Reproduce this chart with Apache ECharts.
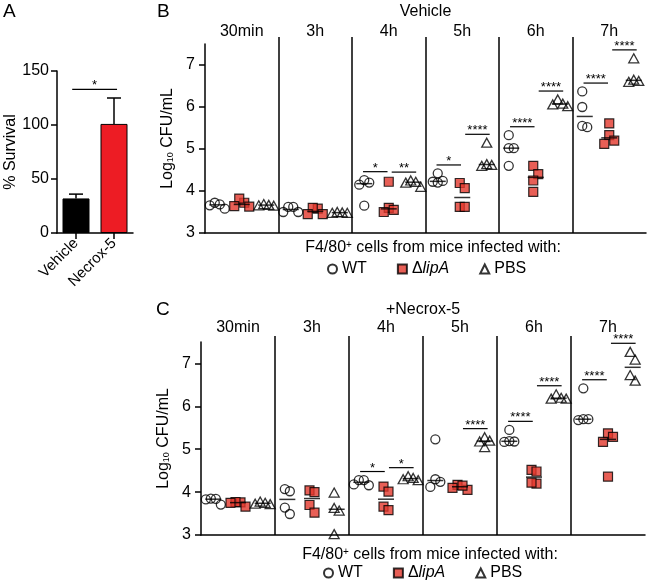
<!DOCTYPE html>
<html><head><meta charset="utf-8">
<script src="https://cdn.jsdelivr.net/npm/echarts@6/dist/echarts.min.js"></script>
<style>html,body{margin:0;padding:0;background:#fff}#c{width:650px;height:583px}</style>
</head><body><div id="c"></div>
<script>
const FONT = '"Liberation Sans", Arial, Helvetica, sans-serif';

// ---------- Panel A ----------
const survivalCategories = ['Vehicle', 'Necrox-5'];
const survivalMean = [32, 101];
const survivalSem = [4, 24];
const survivalSigLevel = 133;
const survivalSigStars = '*';

// ---------- Panels B & C ----------
const timepoints = ['30min', '3h', '4h', '5h', '6h', '7h'];
const groups = ['WT', 'ΔlipA', 'PBS'];

// Vehicle (B) — log10 CFU/mL, one array per timepoint
const vehWT   = [[3.66,3.58,3.68,3.72],[3.62,3.50,3.50,3.62],[4.26,4.20,4.15,3.65],[4.22,4.20,4.24,4.42],[5.33,5.02,5.02,4.60],[6.37,6.00,5.55,5.52]];
const vehLipA = [[3.72,3.82,3.63,3.64],[3.58,3.60,3.45,3.45],[4.22,3.60,3.55,3.50],[4.19,4.07,3.62,3.62],[4.60,4.40,4.25,3.98],[5.61,5.33,5.20,5.12]];
const vehPBS  = [[3.65,3.67,3.66,3.69],[3.48,3.48,3.50,3.49],[4.20,4.22,4.25,4.10],[5.15,4.62,4.64,4.60],[6.18,6.08,6.02,6.06],[7.16,6.62,6.65,6.60]];

// +Necrox-5 (C)
const necWT   = [[3.84,3.83,3.85,3.71],[4.07,4.02,3.64,3.49],[4.28,4.18,4.16,4.28],[5.23,4.30,4.24,4.12],[5.45,5.18,5.17,5.19],[6.42,5.70,5.70,5.68]];
const necLipA = [[3.76,3.77,3.75,3.66],[4.04,4.00,3.70,3.52],[4.13,4.01,3.66,3.58],[4.17,4.10,4.05,4.15],[4.52,4.48,4.20,4.22],[5.37,5.29,5.17,4.36]];
const necPBS  = [[3.72,3.73,3.75,3.78],[3.99,3.63,3.57,3.02],[4.30,4.28,4.33,4.37],[5.28,5.20,5.18,5.05],[6.28,6.20,6.18,6.18],[7.27,7.09,6.73,6.60]];

// significance: [timepoint index, comparison (0 = WT vs ΔlipA, 1 = ΔlipA vs PBS)]
const vehSigPairs = [[2,0],[2,1],[3,0],[3,1],[4,0],[4,1],[5,0],[5,1]];
const vehSigStars = ['*','**','*','****','****','****','****','****'];
const necSigPairs = [[2,0],[2,1],[3,1],[4,0],[4,1],[5,0],[5,1]];
const necSigStars = ['*','*','****','****','****','****','****'];

// ---------- helpers ----------
function median(a){ const s=[...a].sort((x,y)=>x-y); const n=s.length; return n%2? s[(n-1)/2] : (s[n/2-1]+s[n/2])/2; }
// horizontal spreading of overlapping points (layout only, values untouched)
function beeswarm(vals, pxPerUnit, Dx, Dy){
  const order = vals.map((v,i)=>i).sort((a,b)=>vals[b]-vals[a]);
  const placed = []; const offs = new Array(vals.length).fill(0);
  const cands = [0]; for(let k=1;k<=60;k++){ cands.push(k*0.5, -k*0.5); }
  for(const i of order){
    const y = vals[i]*pxPerUnit;
    for(const c of cands){
      if(placed.every(p => Math.abs(c-p.x) >= Dx || Math.abs(y-p.y) >= Dy)){ offs[i]=c; placed.push({x:c,y}); break; }
    }
  }
  const mid = (Math.max(...offs)+Math.min(...offs))/2;
  return offs.map(o => o - mid);
}
const symbols = ['circle','rect','triangle'];
const symSizes = [9, 9, [10,9]];
const symStyles = [
  {color:'rgba(255,255,255,0)', borderColor:'#000', borderWidth:1.3},
  {color:'#e2372c', borderColor:'#000', borderWidth:1.2},
  {color:'rgba(255,255,255,0)', borderColor:'#000', borderWidth:1.3}
];
function panelSeries(datasets, sigPairs, sigStars, ax, pxY){
  const out = [];
  datasets.forEach((grp, g) => {
    const pts = [];
    grp.forEach((vals, t) => {
      const offs = beeswarm(vals, pxY, 5, 9);
      vals.forEach((v,i) => pts.push({value:[t + (g+0.5)/3, v], symbolOffset:[offs[i],0]}));
    });
    out.push({type:'scatter', name:groups[g], xAxisIndex:ax, yAxisIndex:ax, symbol:symbols[g], symbolSize:symSizes[g],
      itemStyle:symStyles[g], data:pts, z:3, silent:true});
    out.push({type:'scatter', xAxisIndex:ax, yAxisIndex:ax, symbol:'rect', symbolSize:[16,1.5], itemStyle:{color:'#000'},
      data: grp.map((vals,t)=>[t+(g+0.5)/3, median(vals)]), z:4, silent:true});
  });
  out.push({type:'custom', xAxisIndex:ax, yAxisIndex:ax, clip:false, silent:true, z:5,
    data: sigPairs.map(([t,c]) => [t, c, Math.max(...datasets[c][t], ...datasets[c+1][t]) + 0.2]),
    renderItem: (params, api) => {
      const t = api.value(0), c = api.value(1), lvl = api.value(2);
      const x0 = t + (c ? 1.62 : 0.45)/3, x1 = x0 + 1/3;
      const p0 = api.coord([x0, lvl]), p1 = api.coord([x1, lvl]);
      return {type:'group', children:[
        {type:'line', shape:{x1:p0[0], y1:p0[1], x2:p1[0], y2:p1[1]}, style:{stroke:'#000', lineWidth:1.2}},
        {type:'text', x:(p0[0]+p1[0])/2, y:p0[1]+3, style:{text:sigStars[params.dataIndex], fill:'#000', font:'13px '+FONT, align:'center', verticalAlign:'bottom'}}
      ]};
    }});
  return out;
}

const axisLineStyle = {lineStyle:{color:'#000', width:1.5}};
const tickStyle = {show:true, length:6, inside:false, lineStyle:{color:'#000', width:1.5}};
function cfuYAxis(gi){
  return {type:'value', gridIndex:gi, min:3, max:7.5, interval:1,
    axisLine:{show:true, ...axisLineStyle}, axisTick:tickStyle, splitLine:{show:false},
    axisLabel:{color:'#000', fontSize:16, fontFamily:FONT, margin:10, showMaxLabel:false},
    name:'Log{sub|10} CFU/mL', nameLocation:'middle', nameGap:28,
    nameTextStyle:{color:'#000', fontSize:16, fontFamily:FONT, rich:{sub:{fontSize:9, fontFamily:FONT, color:'#000', verticalAlign:'bottom', lineHeight:9}}}};
}
function bottomXAxis(gi){
  return {type:'value', gridIndex:gi, min:0, max:6, axisLine:{show:true, onZero:false, ...axisLineStyle},
    axisTick:{show:false}, axisLabel:{show:false}, splitLine:{show:false}};
}
function sepXAxis(gi){
  return {type:'value', gridIndex:gi, min:0, max:6, interval:1, axisLine:{show:false}, axisTick:{show:false}, axisLabel:{show:false},
    splitLine:{show:true, showMinLine:false, showMaxLine:false, lineStyle:{color:'#000', width:1.5}}};
}
function topXAxis(gi, margin){
  return {type:'category', gridIndex:gi, position:'top', data:timepoints, axisLine:{show:false}, axisTick:{show:false},
    axisLabel:{color:'#000', fontSize:16, fontFamily:FONT, margin:margin, interval:0}};
}
function legendFor(left, top){
  return {left:left, top:top, padding:0, itemWidth:9, itemHeight:9, itemGap:30, selectedMode:false, data:groups,
    formatter: n => n === 'ΔlipA' ? '{n|Δ}{i|lipA}' : n,
    textStyle:{color:'#000', fontSize:16, fontFamily:FONT, rich:{n:{fontSize:16, fontFamily:FONT, color:'#000'}, i:{fontSize:16, fontStyle:'italic', fontFamily:FONT, color:'#000'}}}};
}

const option = {
  animation:false,
  backgroundColor:'#fff',
  grid:[
    {left:57, top:71, width:76, height:162, outerBoundsMode:'none'},
    {left:205, top:44, width:441, height:189, outerBoundsMode:'none'},
    {left:201, top:342, width:444, height:193, outerBoundsMode:'none'},
    {left:205, top:37, width:441, height:196, outerBoundsMode:'none'},
    {left:201, top:336, width:444, height:199, outerBoundsMode:'none'}
  ],
  xAxis:[
    {type:'category', gridIndex:0, data:survivalCategories, axisLine:{show:true, ...axisLineStyle},
      axisTick:{...tickStyle, alignWithLabel:true},
      axisLabel:{color:'#000', fontSize:15, fontFamily:FONT, rotate:45, margin:8, interval:0}},
    bottomXAxis(1), bottomXAxis(2), sepXAxis(3), sepXAxis(4), topXAxis(1, 4), topXAxis(2, 6)
  ],
  yAxis:[
    {type:'value', gridIndex:0, min:0, max:150, interval:50, axisLine:{show:true, ...axisLineStyle}, axisTick:tickStyle,
      splitLine:{show:false}, axisLabel:{color:'#000', fontSize:16, fontFamily:FONT, margin:8},
      name:'% Survival', nameLocation:'middle', nameGap:38, nameTextStyle:{color:'#000', fontSize:16, fontFamily:FONT}},
    cfuYAxis(1), cfuYAxis(2),
    {type:'value', gridIndex:3, min:0, max:1, show:false},
    {type:'value', gridIndex:4, min:0, max:1, show:false}
  ],
  legend:[legendFor(327, 261), legendFor(323, 565)],
  graphic:[
    {type:'text', x:3, y:12, style:{text:'A', font:'19px '+FONT, fill:'#000', verticalAlign:'middle'}},
    {type:'text', x:157, y:12, style:{text:'B', font:'19px '+FONT, fill:'#000', verticalAlign:'middle'}},
    {type:'text', x:156, y:310, style:{text:'C', font:'19px '+FONT, fill:'#000', verticalAlign:'middle'}},
    {type:'text', x:425.5, y:12, style:{text:'Vehicle', font:'16px '+FONT, fill:'#000', align:'center', verticalAlign:'middle'}},
    {type:'text', x:423, y:310, style:{text:'+Necrox-5', font:'16px '+FONT, fill:'#000', align:'center', verticalAlign:'middle'}},
    {type:'text', x:433, y:248, style:{text:'F4/80{sup|+} cells from mice infected with:', font:'16px '+FONT, fill:'#000', align:'center', verticalAlign:'middle',
      rich:{sup:{font:'10px '+FONT, fill:'#000', verticalAlign:'top', lineHeight:16}}}},
    {type:'text', x:430, y:555, style:{text:'F4/80{sup|+} cells from mice infected with:', font:'16px '+FONT, fill:'#000', align:'center', verticalAlign:'middle',
      rich:{sup:{font:'10px '+FONT, fill:'#000', verticalAlign:'top', lineHeight:16}}}}
  ],
  series:[
    {type:'bar', xAxisIndex:0, yAxisIndex:0, barWidth:27, silent:true,
      data: survivalMean.map((v,i)=>({value:v, itemStyle:{color: i===0 ? '#000' : '#ed1c24', borderColor:'#000', borderWidth:1}}))},
    {type:'custom', xAxisIndex:0, yAxisIndex:0, clip:false, silent:true, z:3,
      data: survivalMean.map((v,i)=>[i, v, survivalSem[i]]),
      renderItem:(params, api)=>{
        const i = api.value(0), m = api.value(1), e = api.value(2);
        const p = api.coord([i, m]), q = api.coord([i, m+e]);
        return {type:'group', children:[
          {type:'line', shape:{x1:p[0], y1:p[1], x2:q[0], y2:q[1]}, style:{stroke:'#000', lineWidth:1.5}},
          {type:'line', shape:{x1:q[0]-7, y1:q[1], x2:q[0]+7, y2:q[1]}, style:{stroke:'#000', lineWidth:1.5}}
        ]};
      }},
    {type:'custom', xAxisIndex:0, yAxisIndex:0, clip:false, silent:true, z:3,
      data:[[0, 1, survivalSigLevel]],
      renderItem:(params, api)=>{
        const a = api.coord([api.value(0), api.value(2)]), b = api.coord([api.value(1), api.value(2)]);
        const w = b[0]-a[0], x0 = a[0]-0.1*w, x1 = a[0]+1.08*w;
        return {type:'group', children:[
          {type:'line', shape:{x1:x0, y1:a[1], x2:x1, y2:a[1]}, style:{stroke:'#000', lineWidth:1.2}},
          {type:'text', x:(x0+x1)/2, y:a[1]+3, style:{text:survivalSigStars, fill:'#000', font:'13px '+FONT, align:'center', verticalAlign:'bottom'}}
        ]};
      }},
    ...panelSeries([vehWT, vehLipA, vehPBS], vehSigPairs, vehSigStars, 1, 42),
    ...panelSeries([necWT, necLipA, necPBS], necSigPairs, necSigStars, 2, 43)
  ]
};
const chart = echarts.init(document.getElementById('c'), null, {renderer:'canvas'});
chart.setOption(option);
</script>
</body></html>
